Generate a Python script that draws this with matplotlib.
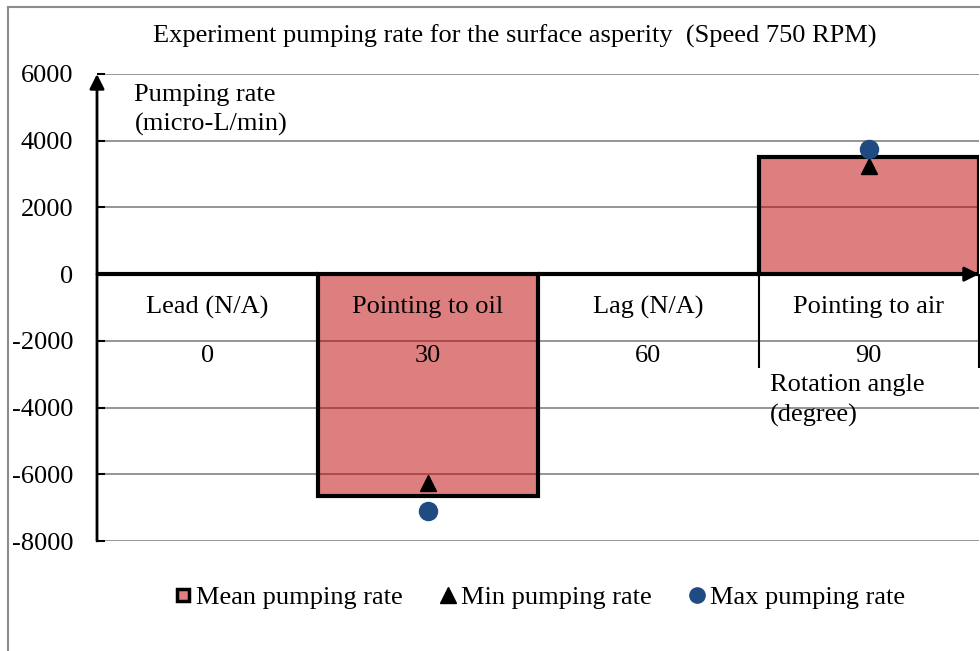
import matplotlib
matplotlib.use('Agg')
import matplotlib.pyplot as plt
from matplotlib.lines import Line2D

plt.rcParams['font.family'] = ['Liberation Serif', 'DejaVu Serif']

# pumping rates in micro-L/min for each asperity orientation
positions = ['Lead (N/A)', 'Pointing to oil', 'Lag (N/A)', 'Pointing to air']
angles = ['0', '30', '60', '90']
mean_rate = [0, -6650, 0, 3500]
min_rate = [None, -6250, None, 3250]
max_rate = [None, -7100, None, 3750]
yticks = [6000, 4000, 2000, 0, -2000, -4000, -6000, -8000]

fs = 19

fig = plt.figure(figsize=(9.8, 6.51), dpi=100, facecolor='white')
ax = fig.add_axes([97/980, 110/651, 882/980, 467/651])

x = list(range(len(positions)))
ax.bar(x, mean_rate, width=1.0, facecolor=(0.75, 0, 0, 0.5), edgecolor='black',
       linewidth=3, zorder=3)

xm = [i for i, v in zip(x, min_rate) if v is not None]
ax.plot(xm, [v for v in min_rate if v is not None], '^', color='black', ms=12, zorder=5)
ax.plot(xm, [v for v in max_rate if v is not None], 'o', color='#1F4B82', ms=13, zorder=5)

ax.set_xlim(-0.5, 3.5)
ax.set_ylim(-8000, 6000)
ax.set_yticks(yticks)
ax.set_yticklabels([str(t) for t in yticks], fontsize=fs)
ax.set_xticks([])
ax.tick_params(axis='y', direction='in', length=6, width=1.5, pad=17)
for s in ax.spines.values():
    s.set_visible(False)

# grid lines except the zero line
for t in yticks:
    if t != 0:
        ax.axhline(t, color='#8c8c8c', lw=1.3, zorder=1)

# axes drawn as arrows
ax.annotate('', xy=(3.5, 0), xytext=(-0.5, 0),
            arrowprops=dict(arrowstyle='-|>', lw=2, color='black', mutation_scale=22,
                            shrinkA=0, shrinkB=0), zorder=6, annotation_clip=False)
ax.annotate('', xy=(-0.5, 6000), xytext=(-0.5, -8000),
            arrowprops=dict(arrowstyle='-|>', lw=2, color='black', mutation_scale=22,
                            shrinkA=0, shrinkB=0), zorder=6, annotation_clip=False)

ax.vlines([2.5, 3.5], -2800, 0, color='black', lw=1.5, zorder=4, clip_on=False)

for i, (p, a) in enumerate(zip(positions, angles)):
    ax.text(i, -1000, p, ha='center', va='center', fontsize=fs, zorder=6)
    ax.text(i, -2450, a, ha='center', va='center', fontsize=fs, zorder=6)

ax.text(-0.33, 4920, 'Pumping rate\n(micro-L/min)', ha='left', va='center',
        fontsize=fs, linespacing=1.4)
ax.text(2.55, -3780, 'Rotation angle\n(degree)', ha='left', va='center',
        fontsize=fs, linespacing=1.45)

fig.text(515/980, 1 - 36/651, 'Experiment pumping rate for the surface asperity  (Speed 750 RPM)',
         ha='center', va='center', fontsize=fs)

handles = [
    Line2D([], [], ls='none', marker='s', ms=9, markerfacecolor='#E08080',
           markeredgecolor='black', markeredgewidth=2.5),
    Line2D([], [], ls='none', marker='^', ms=11, color='black'),
    Line2D([], [], ls='none', marker='o', ms=11, color='#1F4B82'),
]
fig.legend(handles, ['Mean pumping rate', 'Min pumping rate', 'Max pumping rate'],
           loc='center', bbox_to_anchor=(540/980, 1 - 597/651), ncol=3, frameon=False,
           fontsize=fs, handlelength=0.6, handletextpad=0.2, columnspacing=1.4)

# outer frame
fig.add_artist(Line2D([8/980, 8/980], [0, 1 - 7/651], color='#8c8c8c', lw=1.5))
fig.add_artist(Line2D([8/980, 1], [1 - 7/651, 1 - 7/651], color='#8c8c8c', lw=1.5))

fig.savefig('out.png', dpi=100, facecolor='white')
